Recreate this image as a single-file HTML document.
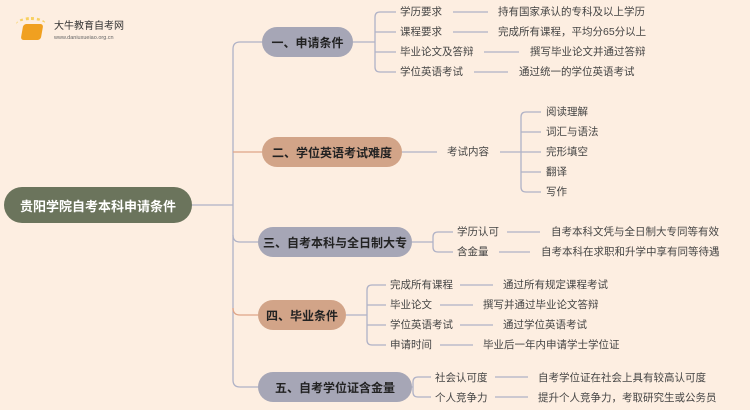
<!DOCTYPE html>
<html><head><meta charset="utf-8"><style>
body{margin:0;width:750px;height:410px;background:#fdeee1;overflow:hidden;position:relative;font-family:"Liberation Sans","Noto Sans CJK SC",sans-serif}
.t{position:absolute;font-size:10.5px;color:#444;line-height:14px;white-space:nowrap}
.n{position:absolute;border-radius:16px;font-weight:bold;font-size:12px;color:#222;display:flex;align-items:center;justify-content:center;white-space:nowrap}
.g{background:#a6a6b6}.o{background:#d2a488}
svg{position:absolute;left:0;top:0}
</style></head><body>
<svg width="750" height="410" fill="none" stroke-width="1.3">
<g stroke="#b0b2c6">
<path d="M192 205H233"/>
<path d="M262 42H240Q233 42 233 49V205"/>
<path d="M233 205V380Q233 387 240 387H258"/>
<path d="M233 235Q233 242 240 242H258"/>
<path d="M353 42H375"/>
<path d="M396 12H380Q375 12 375 17V67Q375 72 380 72H396M375 32H396M375 52H396"/>
<path d="M453 12H488M453 32H488M484 52H519M474 72H508"/>
<path d="M402 152H437M500 152H521"/>
<path d="M541 112H526Q521 112 521 117V187Q521 192 526 192H541M521 132H541M521 152H541M521 172H541"/>
<path d="M412 242H433M453 232H438Q433 232 433 237V247Q433 252 438 252H453"/>
<path d="M507 232H540M499 252H530"/>
<path d="M346 315H367M386 285H372Q367 285 367 290V340Q367 345 372 345H386M367 305H386M367 325H386"/>
<path d="M460 285H493M440 305H473M460 325H493M440 345H473"/>
<path d="M412 387H413M431 377H418Q413 377 413 382V392Q413 397 418 397H431M413 387H413"/>
<path d="M495 377H528M495 397H528"/>
</g>
<g stroke="#e0a588">
<path d="M233 152H262M233 308Q233 315 240 315H258"/>
</g>
</svg>
<div style="position:absolute;left:22px;top:24px;width:20px;height:16px;background:#f0a020;border-radius:3px;transform:skewX(-10deg)"></div>
<div style="position:absolute;left:16px;top:17px;width:30px;height:12px;border-top:3px dotted #f7d060;border-radius:50%"></div>
<div class="t" style="left:54px;top:20px;font-size:10px;color:#333">大牛教育自考网</div>
<div class="t" style="left:54px;top:34px;font-size:5.5px;color:#666;line-height:8px">www.daniuxueiao.org.cn</div>

<div class="n" style="left:4px;top:187px;width:188px;height:36px;border-radius:18px;background:#6b745c;color:#fff;font-size:13px">贵阳学院自考本科申请条件</div>
<div class="n g" style="left:262px;top:27px;width:91px;height:30px">一、申请条件</div>
<div class="n o" style="left:262px;top:137px;width:140px;height:30px">二、学位英语考试难度</div>
<div class="n g" style="left:258px;top:227px;width:154px;height:30px">三、自考本科与全日制大专</div>
<div class="n o" style="left:258px;top:300px;width:88px;height:30px">四、毕业条件</div>
<div class="n g" style="left:258px;top:372px;width:154px;height:30px">五、自考学位证含金量</div>

<div class="t" style="left:400px;top:5px">学历要求</div><div class="t" style="left:498px;top:5px">持有国家承认的专科及以上学历</div>
<div class="t" style="left:400px;top:25px">课程要求</div><div class="t" style="left:498px;top:25px">完成所有课程，平均分65分以上</div>
<div class="t" style="left:400px;top:45px">毕业论文及答辩</div><div class="t" style="left:530px;top:45px">撰写毕业论文并通过答辩</div>
<div class="t" style="left:400px;top:65px">学位英语考试</div><div class="t" style="left:519px;top:65px">通过统一的学位英语考试</div>

<div class="t" style="left:447px;top:145px">考试内容</div>
<div class="t" style="left:546px;top:105px">阅读理解</div>
<div class="t" style="left:546px;top:125px">词汇与语法</div>
<div class="t" style="left:546px;top:145px">完形填空</div>
<div class="t" style="left:546px;top:165px">翻译</div>
<div class="t" style="left:546px;top:185px">写作</div>

<div class="t" style="left:457px;top:225px">学历认可</div><div class="t" style="left:551px;top:225px">自考本科文凭与全日制大专同等有效</div>
<div class="t" style="left:457px;top:245px">含金量</div><div class="t" style="left:541px;top:245px">自考本科在求职和升学中享有同等待遇</div>

<div class="t" style="left:390px;top:278px">完成所有课程</div><div class="t" style="left:503px;top:278px">通过所有规定课程考试</div>
<div class="t" style="left:390px;top:298px">毕业论文</div><div class="t" style="left:483px;top:298px">撰写并通过毕业论文答辩</div>
<div class="t" style="left:390px;top:318px">学位英语考试</div><div class="t" style="left:503px;top:318px">通过学位英语考试</div>
<div class="t" style="left:390px;top:338px">申请时间</div><div class="t" style="left:483px;top:338px">毕业后一年内申请学士学位证</div>

<div class="t" style="left:435px;top:371px">社会认可度</div><div class="t" style="left:538px;top:371px">自考学位证在社会上具有较高认可度</div>
<div class="t" style="left:435px;top:391px">个人竞争力</div><div class="t" style="left:538px;top:391px">提升个人竞争力，考取研究生或公务员</div>
</body></html>
